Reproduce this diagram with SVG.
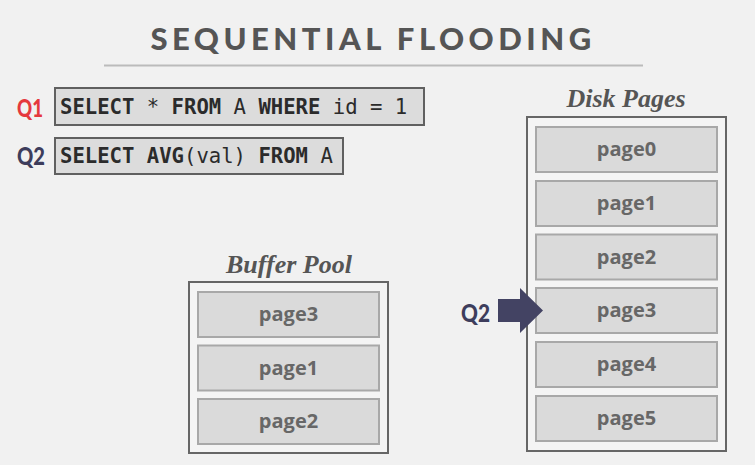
<svg xmlns="http://www.w3.org/2000/svg" width="755" height="465" viewBox="0 0 755 465">
  <style>
    .title { font-family: Lato, "Open Sans", sans-serif; font-weight: 900; font-size: 31px; fill: #555555; letter-spacing: 4.5px; }
    .qlabel { font-family: Lato, "Open Sans", sans-serif; font-weight: 900; font-size: 25px; }
    .sql { font-family: "DejaVu Sans Mono", "Liberation Mono", monospace; font-size: 20.6px; fill: #2b2b2b; }
    .kw { font-weight: 700; }
    .sqlbox { fill: #dcdcdc; stroke: #606060; stroke-width: 2; }
    .pool { fill: #f4f4f4; stroke: #666666; stroke-width: 2; }
    .slot { fill: #dadada; stroke: #a8a8a8; stroke-width: 2; }
    .page { font-family: "Open Sans", Lato, sans-serif; font-weight: 700; font-size: 20px; fill: #676767; text-anchor: middle; }
    .heading { font-family: "Liberation Serif", "DejaVu Serif", serif; font-style: italic; font-weight: 700; font-size: 26px; fill: #555555; text-anchor: middle; }
  </style>

  <rect width="755" height="465" fill="#f1f1f1"/>

  <!-- title -->
  <text class="title" x="373" y="50" text-anchor="middle">SEQUENTIAL FLOODING</text>
  <line x1="104" y1="65.5" x2="643" y2="65.5" stroke="#bbbbbb" stroke-width="2"/>

  <!-- queries -->
  <g id="q1">
    <text class="qlabel" x="17" y="117" fill="#e5383d" textLength="26" lengthAdjust="spacingAndGlyphs">Q1</text>
    <rect class="sqlbox" x="55" y="88" width="369" height="37"/>
    <text class="sql" x="60" y="114"><tspan class="kw">SELECT</tspan> * <tspan class="kw">FROM</tspan> A <tspan class="kw">WHERE</tspan> id = 1</text>
  </g>
  <g id="q2">
    <text class="qlabel" x="17" y="165" fill="#3d3d5c" textLength="28" lengthAdjust="spacingAndGlyphs">Q2</text>
    <rect class="sqlbox" x="55" y="138" width="288" height="36"/>
    <text class="sql" x="60" y="163"><tspan class="kw">SELECT</tspan> <tspan class="kw">AVG</tspan>(val) <tspan class="kw">FROM</tspan> A</text>
  </g>

  <!-- buffer pool -->
  <g id="buffer-pool">
    <text class="heading" x="289" y="273">Buffer Pool</text>
    <rect class="pool" x="189" y="282" width="199" height="171"/>
    <rect class="slot" x="198" y="292" width="181" height="45"/>
    <text class="page" x="288.5" y="321">page3</text>
    <rect class="slot" x="198" y="345.5" width="181" height="45"/>
    <text class="page" x="288.5" y="375">page1</text>
    <rect class="slot" x="198" y="399" width="181" height="45"/>
    <text class="page" x="288.5" y="428">page2</text>
  </g>

  <!-- disk pages -->
  <g id="disk-pages">
    <text class="heading" x="626" y="107">Disk Pages</text>
    <rect class="pool" x="527" y="117" width="199" height="334"/>
    <rect class="slot" x="536" y="127" width="181" height="45"/>
    <text class="page" x="626.5" y="156">page0</text>
    <rect class="slot" x="536" y="181" width="181" height="45"/>
    <text class="page" x="626.5" y="210">page1</text>
    <rect class="slot" x="536" y="234.5" width="181" height="45"/>
    <text class="page" x="626.5" y="264">page2</text>
    <rect class="slot" x="536" y="288" width="181" height="45"/>
    <text class="page" x="626.5" y="317">page3</text>
    <rect class="slot" x="536" y="342" width="181" height="45"/>
    <text class="page" x="626.5" y="371">page4</text>
    <rect class="slot" x="536" y="396" width="181" height="45"/>
    <text class="page" x="626.5" y="425">page5</text>
  </g>

  <!-- cursor of Q2 -->
  <g id="connectors">
    <text class="qlabel" x="461" y="322" fill="#3d3d5c" textLength="29" lengthAdjust="spacingAndGlyphs">Q2</text>
    <polygon points="498,299 520,299 520,288 543,310.5 520,333 520,322 498,322" fill="#434363"/>
  </g>
</svg>
